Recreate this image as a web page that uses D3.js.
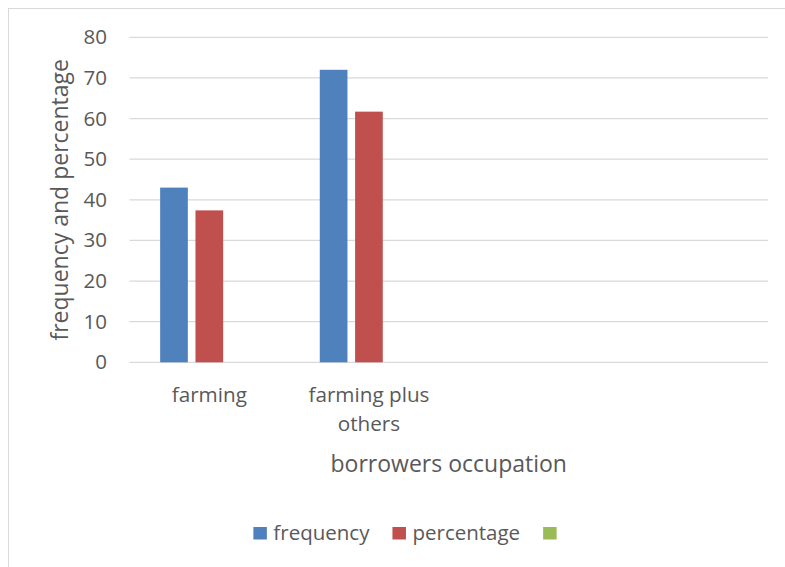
<!DOCTYPE html>
<html>
<head>
<meta charset="utf-8">
<script src="https://cdn.jsdelivr.net/npm/d3@7"></script>
<style>
  html, body { margin: 0; padding: 0; background: #fff; }
  svg { display: block; font-family: "Open Sans", Lato, sans-serif; }
</style>
</head>
<body>
<svg id="chart" width="785" height="567"></svg>
<script>
// Occupation categories (the last two slots are empty in the source sheet)
const categories = ["farming", "farming plus others", "", " "];
const seriesNames = ["frequency", "percentage", ""];
const frequency = [43, 72, null, null];
const percentage = [37.4, 61.7, null, null];
const thirdSeries = [null, null, null, null];
const yTicks = [0, 10, 20, 30, 40, 50, 60, 70, 80];
const colors = ["#4F81BD", "#C0504D", "#9BBB59"];

const seriesValues = [frequency, percentage, thirdSeries];

const svg = d3.select("#chart");
const textColor = "#595959";
const gridColor = "#D9D9D9";

// chart frame (left and top edges are visible)
svg.append("rect")
  .attr("x", 8.5).attr("y", 8.5)
  .attr("width", 800).attr("height", 600)
  .attr("fill", "#fff")
  .attr("stroke", gridColor).attr("stroke-width", 1);

const plot = { left: 129.5, right: 768, top: 37.3, bottom: 362.3 };

const y = d3.scaleLinear().domain([0, 80]).range([plot.bottom, plot.top]);
const x0 = d3.scaleBand().domain(categories).range([plot.left, plot.right]).padding(0);
const groupInset = x0.step() * 0.192;
const x1 = d3.scaleBand().domain(d3.range(seriesValues.length))
  .range([groupInset, x0.step() - groupInset])
  .paddingInner(0.216).paddingOuter(0);

// gridlines
svg.append("g").selectAll("line").data(yTicks).join("line")
  .attr("x1", plot.left).attr("x2", plot.right)
  .attr("y1", d => y(d)).attr("y2", d => y(d))
  .attr("stroke", gridColor).attr("stroke-width", 1.3);

// y axis labels
const yAxis = d3.axisLeft(y).tickValues(yTicks).tickSize(0).tickPadding(0);
const yg = svg.append("g").attr("transform", `translate(${plot.left - 22.5},0)`).call(yAxis);
yg.select(".domain").remove();
yg.selectAll("text").attr("fill", textColor).style("font-size", "20.5px")
  .style("font-family", "'Open Sans', sans-serif");

// bars
const groups = svg.append("g").selectAll("g").data(categories).join("g")
  .attr("transform", d => `translate(${x0(d)},0)`);
groups.selectAll("rect")
  .data((d, i) => seriesValues.map((s, k) => ({ k, v: s[i] })).filter(e => e.v != null))
  .join("rect")
  .attr("x", e => x1(e.k))
  .attr("width", x1.bandwidth())
  .attr("y", e => y(e.v))
  .attr("height", e => y(0) - y(e.v))
  .attr("fill", e => colors[e.k]);

// category labels (wrapped)
const catLines = { "farming": ["farming"], "farming plus others": ["farming plus", "others"] };
categories.forEach(c => {
  const lines = catLines[c] || [];
  lines.forEach((ln, j) => {
    svg.append("text")
      .attr("x", x0(c) + x0.bandwidth() / 2)
      .attr("y", 401.5 + j * 29)
      .attr("text-anchor", "middle")
      .attr("fill", textColor)
      .style("font-size", "20.7px")
      .text(ln);
  });
});

// axis titles
svg.append("text")
  .attr("x", (plot.left + plot.right) / 2).attr("y", 471.5)
  .attr("text-anchor", "middle").attr("fill", textColor)
  .style("font-size", "23px")
  .text("borrowers occupation");

svg.append("text")
  .attr("transform", `translate(67.5,${(plot.top + plot.bottom) / 2}) rotate(-90)`)
  .attr("text-anchor", "middle").attr("fill", textColor)
  .style("font-size", "23px")
  .text("frequency and percentage");

// legend
const legend = svg.append("g");
let lx = 0;
seriesNames.forEach((name, k) => {
  const item = legend.append("g").attr("transform", `translate(${lx},0)`);
  item.append("rect").attr("x", 0).attr("y", -12.5).attr("width", 13.5).attr("height", 12.5)
    .attr("fill", colors[k]);
  const t = item.append("text").attr("x", 20).attr("y", 0)
    .attr("fill", textColor).style("font-size", "20.5px").text(name);
  const w = name ? t.node().getComputedTextLength() : 0;
  lx += name ? 20 + w + 23 : 13.5;
});
legend.attr("transform", `translate(${405 - lx / 2},539.5)`);
</script>
</body>
</html>
